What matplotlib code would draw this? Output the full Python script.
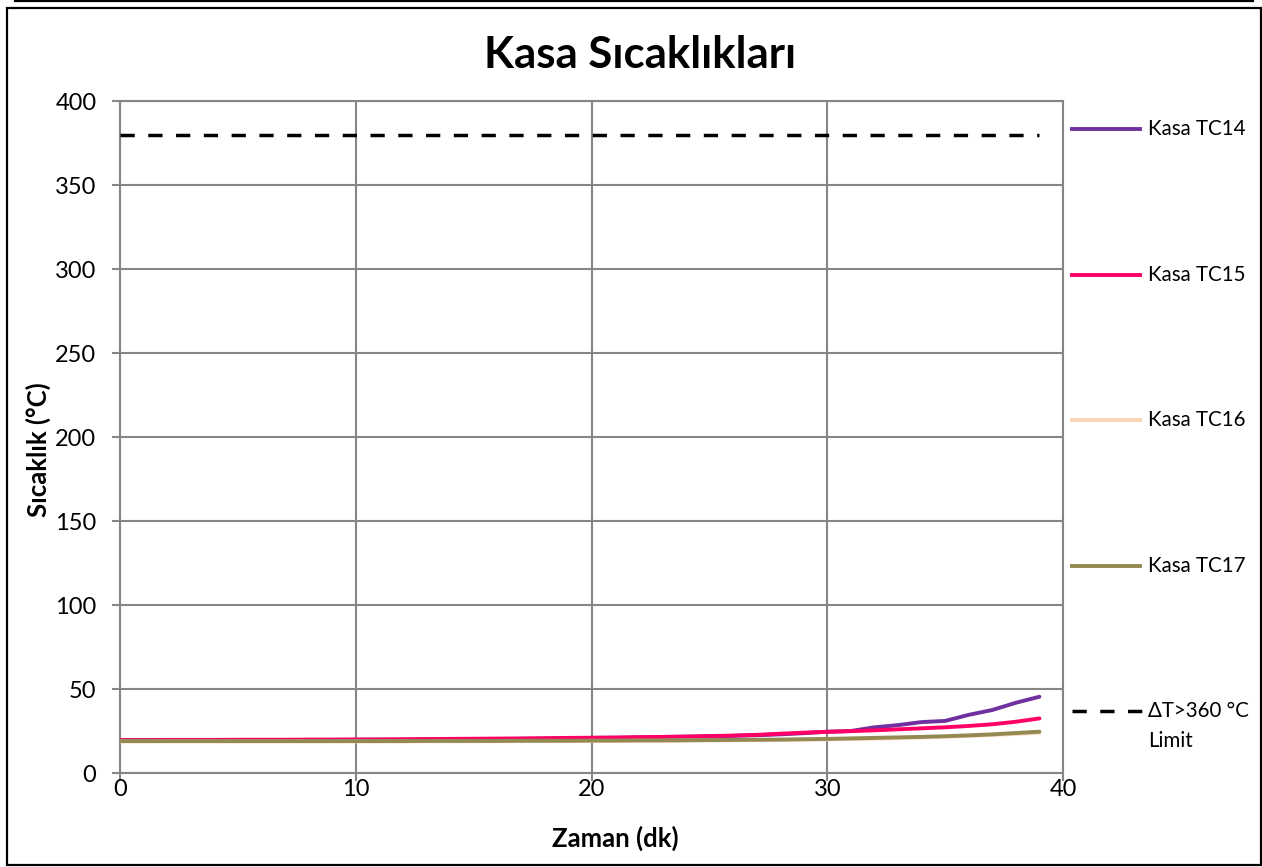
import matplotlib
matplotlib.use("Agg")
import matplotlib.pyplot as plt
from matplotlib.lines import Line2D
from matplotlib.patches import Rectangle

plt.rcParams['font.family'] = ['Lato', 'DejaVu Sans']

# ---- data ----
time_min = list(range(0, 40))
tc14 = [19.5, 19.5, 19.5, 19.5, 19.5, 19.5, 19.6, 19.6, 19.6, 19.7,
        19.7, 19.8, 19.8, 19.9, 20.0, 20.1, 20.2, 20.3, 20.5, 20.7,
        20.9, 21.0, 21.2, 21.4, 21.6, 21.8, 22.1, 22.5, 23.0, 23.7,
        24.6, 25.0, 27.2, 28.5, 30.3, 31.0, 34.6, 37.5, 41.8, 45.4]
tc15 = [19.6, 19.6, 19.7, 19.7, 19.7, 19.8, 19.8, 19.8, 19.9, 19.9,
        20.0, 20.0, 20.1, 20.2, 20.3, 20.4, 20.5, 20.6, 20.7, 20.9,
        21.0, 21.1, 21.3, 21.5, 21.7, 22.0, 22.3, 22.7, 23.4, 24.0,
        24.5, 24.9, 25.4, 26.0, 26.6, 27.2, 28.0, 29.0, 30.5, 32.5]
tc16 = [18.8, 18.8, 18.8, 18.8, 18.8, 18.8, 18.8, 18.8, 18.8, 18.8,
        18.8, 18.8, 18.8, 18.9, 18.9, 18.9, 18.9, 19.0, 19.0, 19.0,
        19.1, 19.1, 19.2, 19.2, 19.3, 19.4, 19.5, 19.6, 19.7, 19.8,
        20.0, 20.2, 20.5, 20.8, 21.2, 21.6, 22.1, 22.6, 23.3, 24.0]
tc17 = [19.0, 19.0, 19.0, 19.0, 19.0, 19.0, 19.0, 19.0, 19.0, 19.0,
        19.0, 19.0, 19.0, 19.1, 19.1, 19.1, 19.1, 19.2, 19.2, 19.2,
        19.3, 19.3, 19.4, 19.4, 19.5, 19.6, 19.7, 19.8, 19.9, 20.1,
        20.3, 20.6, 20.9, 21.2, 21.5, 21.9, 22.4, 23.0, 23.8, 24.6]
limit_value = 380
limit_time = [0, 39]

series_labels = ["Kasa TC14", "Kasa TC15", "Kasa TC16", "Kasa TC17", "ΔT>360 °C\nLimit"]
series_colors = ["#7030A0", "#FF0066", "#FBD4B4", "#938953", "black"]
x_ticks = [0, 10, 20, 30, 40]
y_ticks = [0, 50, 100, 150, 200, 250, 300, 350, 400]

W, H = 1262, 867
fig = plt.figure(figsize=(W / 100, H / 100), dpi=100)
ax = fig.add_axes([120 / W, (H - 773) / H, (1063 - 120) / W, (773 - 101) / H])

lw = 2.8
for vals, c in zip([tc14, tc15, tc16, tc17], series_colors[:4]):
    ax.plot(time_min, vals, color=c, lw=lw, solid_capstyle='round', zorder=3)
ax.plot(limit_time, [limit_value, limit_value], color='black', lw=2.5,
        dashes=(4.1, 3.9), zorder=3)

ax.set_xlim(0, 40)
ax.set_ylim(0, 400)
ax.set_xticks(x_ticks)
ax.set_yticks(y_ticks)
ax.grid(True, color='#868686', lw=1.5, zorder=0)
for s in ax.spines.values():
    s.set_color('#868686')
    s.set_linewidth(1.5)
ax.tick_params(axis='both', colors='#868686', length=6, width=1.5,
               labelcolor='black', labelsize=17)
ax.tick_params(axis='y', pad=11)
ax.tick_params(axis='x', pad=-2)

ax.set_xlabel("Zaman (dk)", fontsize=18.5, fontweight='bold', labelpad=19)
ax.set_ylabel("Sıcaklık (°C)", fontsize=18.5, fontweight='bold', labelpad=3)
ax.xaxis.label.set_x((615 - 120) / (1063 - 120))
ax.yaxis.label.set_y((773 - 450) / (773 - 101))
fig.text(640 / W, 1 - 55 / H, "Kasa Sıcaklıkları", fontsize=31.5, fontweight='bold',
         ha='center', va='center')

# legend drawn manually at spread positions
leg_y = [129, 274.5, 420, 565.5, 711]
for i, (lab, c) in enumerate(zip(series_labels, series_colors)):
    yy = 1 - leg_y[i] / H
    if i < 4:
        fig.add_artist(Line2D([1072 / W, 1140 / W], [yy, yy], color=c, lw=lw,
                              transform=fig.transFigure))
    else:
        fig.add_artist(Line2D([1072 / W, 1142 / W], [yy, yy], color=c, lw=2.5,
                              dashes=(4.1, 3.9), transform=fig.transFigure))
    for k, line in enumerate(lab.split("\n")):
        fig.text(1148 / W, yy - k * 30 / H, line, fontsize=14.8, va='center',
                 ha='left')

# outer frame and top rule
fig.add_artist(Rectangle((7 / W, 1 - 865 / H), (1261 - 7) / W, (865 - 8) / H,
                         fill=False, ec='black', lw=1.6, transform=fig.transFigure))
fig.add_artist(Line2D([15 / W, 1253 / W], [1 - 1 / H, 1 - 1 / H], color='black',
                      lw=1.6, transform=fig.transFigure))

fig.savefig("out.png", dpi=100)
